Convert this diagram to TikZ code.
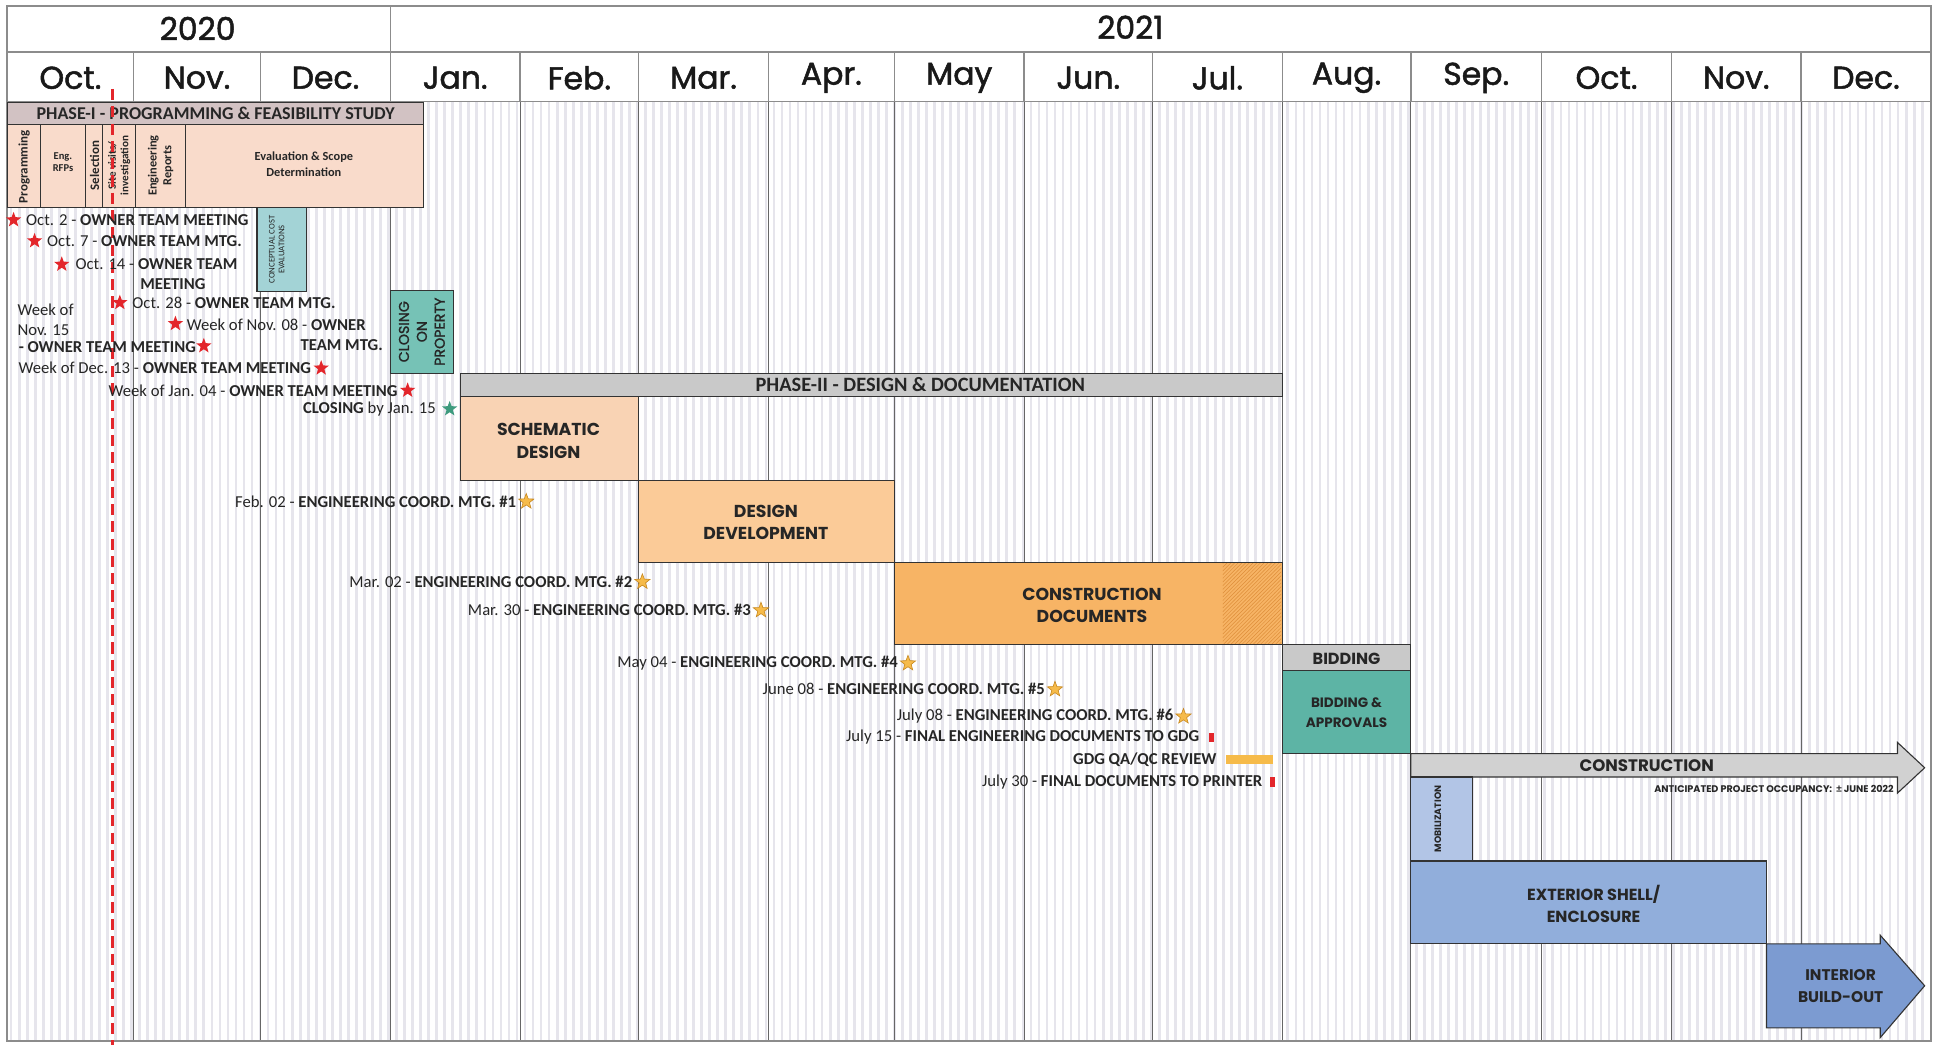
\documentclass[tikz,border=0pt]{standalone}
\usepackage{fontspec}
\setmainfont{Carlito}
\newfontfamily\pop{Poppins}
\newfontfamily\popm{Poppins}[FakeBold=1.6]
\usetikzlibrary{shapes.geometric,patterns}
\definecolor{stripec}{HTML}{E6E5EC}
\definecolor{redc}{HTML}{E3262B}
\definecolor{ostarc}{HTML}{F6BB4A}
\definecolor{ostardk}{HTML}{C98A22}
\definecolor{greenc}{HTML}{3E9B7E}
\definecolor{phAhead}{HTML}{D2C2C3}
\definecolor{phAsub}{HTML}{F9DBCB}
\definecolor{conceptc}{HTML}{A3D3D6}
\definecolor{closingc}{HTML}{76C2B6}
\definecolor{greybar}{HTML}{C9C9C9}
\definecolor{sdc}{HTML}{F9D3B4}
\definecolor{ddc}{HTML}{FBCB98}
\definecolor{cdc}{HTML}{F7B465}
\definecolor{hatchc}{HTML}{DE8E3A}
\definecolor{bidac}{HTML}{5DB4A5}
\definecolor{mobc}{HTML}{B2C5E6}
\definecolor{extc}{HTML}{91AEDB}
\definecolor{intc}{HTML}{7C9BD1}
\begin{document}
\begin{tikzpicture}[x=1pt,y=-1pt,
  hdr/.style={draw=black!45, line width=1.2pt, fill=white},
  stripe/.style={draw=stripec, line width=2.2pt},
  mline/.style={draw=black!60, line width=0.9pt},
  monthlbl/.style={font=\popm\fontsize{25.5}{27}\selectfont, inner sep=0pt, text=black!90},
  bar/.style={draw=black!80, line width=0.9pt},
  lbl/.style={font=\pop\bfseries\fontsize{14}{18}\selectfont, align=center, inner sep=0pt, text=black!85},
  sublbl/.style={font=\bfseries\fontsize{10.5}{12}\selectfont, align=center, inner sep=0pt, text=black!85},
  ann/.style={font=\fontsize{13.5}{14}\selectfont, inner sep=0pt, text=black!85},
  rstar/.style={star, star points=5, star point ratio=2.4, fill=redc, inner sep=0pt, minimum size=13pt},
  ostar/.style={star, star points=5, star point ratio=2.4, fill=ostarc, draw=ostardk, line width=0.5pt, inner sep=0pt, minimum size=13pt},
  gstar/.style={star, star points=5, star point ratio=2.4, fill=greenc, inner sep=0pt, minimum size=13pt},
  redmark/.style={fill=redc, minimum width=4pt, minimum height=8pt, inner sep=0pt},
  reddash/.style={draw=redc, line width=3pt, dash pattern=on 9pt off 5pt}
]
\useasboundingbox (0,0) rectangle (1568,846);
\fill[white] (0,0) rectangle (1568,846);

% background stripes
\foreach \x in {9,15.5,...,1561} \draw[stripe] (\x,82) -- (\x,843);

% year row
\draw[hdr] (6,5) rectangle (316,42);
\draw[hdr] (316,5) rectangle (1563,42);
\node[monthlbl] (y20) at (160,23) {2020};
\node[monthlbl] (y21) at (915,22) {2021};

% month row and month lines
\foreach \a/\b/\m [count=\i] in {6/108/Oct.,108/211/Nov.,211/316/Dec.,316/421/Jan.,421/517/Feb.,517/622/Mar.,622/724/Apr.,724/829/May,829/933/Jun.,933/1038/Jul.,1038/1142/Aug.,1142/1248/Sep.,1248/1353/Oct.,1353/1458/Nov.,1458/1563/Dec.}
{
  \draw[hdr] (\a,42) rectangle (\b,82);
  \node[monthlbl] (m\i) at ({(\a+\b)/2},63) {\m};
  \draw[mline] (\b,82) -- (\b,843);
}
\draw[draw=black!45, line width=1.5pt] (6,5) rectangle (1563,843);

% PHASE I
\draw[bar, fill=phAhead] (6,83) rectangle (343,101);
\node[font=\bfseries\fontsize{14.6}{15}\selectfont, inner sep=0pt, text=black!85] (ph1) at (174.5,92) {PHASE-I - PROGRAMMING \& FEASIBILITY STUDY};
\draw[bar, fill=phAsub] (6,101) rectangle (343,168);
\foreach \xx in {33,69,83,110,150} \draw[bar] (\xx,101) -- (\xx,168);
\node[sublbl, rotate=90, font=\bfseries\fontsize{10.5}{12}\selectfont] (prog) at (19.5,135) {Programming};
\node[sublbl, font=\bfseries\fontsize{8.5}{10}\selectfont] (rfp) at (51,131) {Eng.\\RFPs};
\node[sublbl, rotate=90, font=\bfseries\fontsize{10.5}{12}\selectfont] (sel) at (76.5,134) {Selection};
\node[sublbl, rotate=90, font=\bfseries\fontsize{9}{10}\selectfont] (site) at (96.5,134) {Site visits/\\investigation};
\node[sublbl, rotate=90, font=\bfseries\fontsize{10}{12}\selectfont] (engr) at (130,134) {Engineering\\Reports};
\node[sublbl, font=\bfseries\fontsize{10}{13}\selectfont] (eval) at (246,133) {Evaluation \& Scope\\Determination};

% conceptual cost
\draw[bar, fill=conceptc] (208,168) rectangle (248,236);
\node[rotate=90, font=\fontsize{7}{8}\selectfont, align=center, inner sep=0pt, text=black!85] (cce) at (224,202) {CONCEPTUAL COST\\EVALUATIONS};

% closing on property
\draw[bar, fill=closingc] (316,235) rectangle (367,302);
\node[rotate=90, font=\popm\fontsize{11.5}{14.5}\selectfont, align=center, inner sep=0pt, text=black!85] (clos) at (341.5,268.5) {CLOSING\\ON\\PROPERTY};

% PHASE II
\draw[bar, fill=greybar] (373,302) rectangle (1038,321);
\node[font=\bfseries\fontsize{16.5}{17}\selectfont, inner sep=0pt, text=black!85] (ph2) at (745,311.5) {PHASE-II - DESIGN \& DOCUMENTATION};
\draw[bar, fill=sdc] (373,321) rectangle (517,389);
\node[lbl] (sd) at (444,357) {SCHEMATIC\\DESIGN};
\draw[bar, fill=ddc] (517,389) rectangle (724,455);
\node[lbl] (dd) at (620,423) {DESIGN\\DEVELOPMENT};
\draw[bar, fill=cdc] (724,455) rectangle (1038,522);
\fill[pattern=north east lines, pattern color=hatchc] (990,456) rectangle (1037,521);
\draw[bar] (724,455) rectangle (1038,522);
\node[lbl] (cd) at (884,490) {CONSTRUCTION\\DOCUMENTS};

% bidding
\draw[bar, fill=greybar] (1038,522) rectangle (1142,543);
\node[lbl, font=\pop\bfseries\fontsize{13}{15}\selectfont] (bid) at (1090,533) {BIDDING};
\draw[bar, fill=bidac] (1038,543) rectangle (1142,610);
\node[lbl, font=\pop\bfseries\fontsize{11}{16}\selectfont] (bida) at (1090,577) {BIDDING \&\\APPROVALS};

% construction arrow
\draw[bar, fill=greybar!85] (1142,610) -- (1536,610) -- (1536,601) -- (1558,621.5) -- (1536,642) -- (1536,629) -- (1142,629) -- cycle;
\node[lbl, font=\pop\bfseries\fontsize{13.5}{15}\selectfont] (cons) at (1333,620) {CONSTRUCTION};
\node[font=\pop\bfseries\fontsize{7.8}{9}\selectfont, inner sep=0pt, anchor=east, text=black!85] (occ) at (1533,639) {ANTICIPATED PROJECT OCCUPANCY:\ \ {\normalfont\bfseries\fontsize{9}{9}\selectfont ±} JUNE 2022};
\draw[bar, fill=mobc] (1142,629) rectangle (1192,697);
\node[rotate=90, font=\pop\bfseries\fontsize{7.5}{8}\selectfont, inner sep=0pt, text=black!85] (mob) at (1164,663) {MOBILIZATION};
\draw[bar, fill=extc] (1142,697) rectangle (1430,764);
\node[lbl, font=\pop\bfseries\fontsize{13}{18}\selectfont] (ext) at (1290,732) {EXTERIOR SHELL/\\ENCLOSURE};
\draw[bar, fill=intc] (1430,764) -- (1522,764) -- (1522,757) -- (1558,798) -- (1522,840) -- (1522,832) -- (1430,832) -- cycle;
\node[lbl, font=\pop\bfseries\fontsize{12.5}{18}\selectfont] (int) at (1490,798) {INTERIOR\\BUILD-OUT};

% today line
\draw[reddash] (91,72) -- (91,846);

% owner meetings
\node[rstar] (s1) at (11,178) {};
\node[ann, anchor=west] (a1) at (21,178) {Oct. 2 - \textbf{OWNER TEAM MEETING}};
\node[rstar] (s2) at (28,195) {};
\node[ann, anchor=west] (a2) at (38,195) {Oct. 7 - \textbf{OWNER TEAM MTG.}};
\node[rstar] (s3) at (50,214) {};
\node[ann, anchor=west] (a3) at (61,214) {Oct. 14 - \textbf{OWNER TEAM}};
\node[ann] (a3b) at (140,230) {\textbf{MEETING}};
\node[ann, anchor=west] (a4a) at (14,251) {Week of};
\node[ann, anchor=west] (a4b) at (14,267) {Nov. 15};
\node[ann, anchor=west] (a4c) at (15,281) {\textbf{- OWNER TEAM MEETING}};
\node[rstar] (s4) at (165,280) {};
\node[rstar] (s5) at (97,245) {};
\node[ann, anchor=west] (a5) at (107,245) {Oct. 28 - \textbf{OWNER TEAM MTG.}};
\node[rstar] (s6) at (142,262) {};
\node[ann, anchor=west] (a6) at (151,263) {Week of Nov. 08 - \textbf{OWNER}};
\node[ann, anchor=east] (a6b) at (310,279) {\textbf{TEAM MTG.}};
\node[ann, anchor=east] (a7) at (252,298) {Week of Dec. 13 - \textbf{OWNER TEAM MEETING}};
\node[rstar] (s7) at (260,298) {};
\node[ann, anchor=east] (a8) at (322,316) {Week of Jan. 04 - \textbf{OWNER TEAM MEETING}};
\node[rstar] (s8) at (330,316) {};
\node[ann, anchor=east] (a9) at (353,331) {\textbf{CLOSING} by Jan. 15};
\node[gstar] (s9) at (364,331) {};

% engineering meetings
\node[ann, anchor=east] (e1) at (418,406) {Feb. 02 - \textbf{ENGINEERING COORD. MTG. \#1}};
\node[ostar] (e1s) at (426,406) {};
\node[ann, anchor=east] (e2) at (512,471) {Mar. 02 - \textbf{ENGINEERING COORD. MTG. \#2}};
\node[ostar] (e2s) at (520,471) {};
\node[ann, anchor=east] (e3) at (608,494) {Mar. 30 - \textbf{ENGINEERING COORD. MTG. \#3}};
\node[ostar] (e3s) at (616,494) {};
\node[ann, anchor=east] (e4) at (727,537) {May 04 - \textbf{ENGINEERING COORD. MTG. \#4}};
\node[ostar] (e4s) at (735,537) {};
\node[ann, anchor=east] (e5) at (846,558) {June 08 - \textbf{ENGINEERING COORD. MTG. \#5}};
\node[ostar] (e5s) at (854,558) {};
\node[ann, anchor=east] (e6) at (950,580) {July 08 - \textbf{ENGINEERING COORD. MTG. \#6}};
\node[ostar] (e6s) at (958,580) {};
\node[ann, anchor=east] (f1) at (971,597) {July 15 - \textbf{FINAL ENGINEERING DOCUMENTS TO GDG}};
\node[redmark] (f1m) at (981,597) {};
\node[ann, anchor=east] (f2) at (985,615) {\textbf{GDG QA/QC REVIEW}};
\node[fill=ostarc, minimum width=38pt, minimum height=7pt, inner sep=0pt, anchor=west] (f2m) at (992,615) {};
\node[ann, anchor=east] (f3) at (1022,633) {July 30 - \textbf{FINAL DOCUMENTS TO PRINTER}};
\node[redmark] (f3m) at (1030,633) {};
\end{tikzpicture}
\end{document}
